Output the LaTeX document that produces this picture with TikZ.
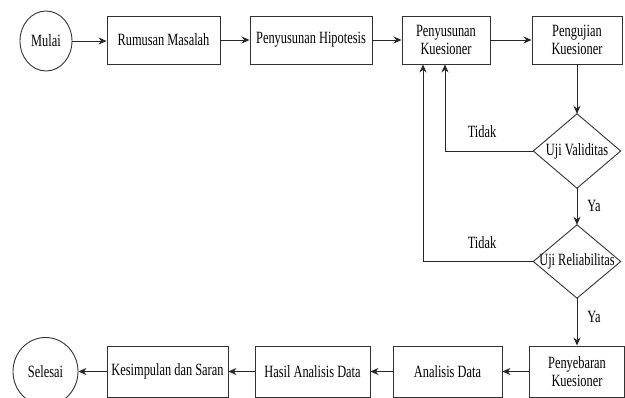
\documentclass[tikz,border=0pt]{standalone}
\usepackage{fontspec}
\setmainfont[FakeStretch=0.72]{Liberation Serif}
\usetikzlibrary{arrows.meta,shapes.geometric}
\begin{document}
\begin{tikzpicture}[x=1pt,y=-1pt,
  every node/.style={font=\fontsize{17.2}{18}\selectfont, text=black},
  box/.style={draw=black!80, line width=0.9pt, rectangle, inner sep=0pt, align=center},
  oval/.style={draw=black!80, line width=0.9pt, ellipse, inner sep=0pt},
  dia/.style={rectangle, inner sep=0pt, align=center},
  conn/.style={draw=black!85, line width=0.9pt, -{Stealth[length=8pt,width=7pt]}},
  lbl/.style={inner sep=0pt}
]
\useasboundingbox (0,0) rectangle (625,398);
\fill[white] (0,0) rectangle (625,398);

% top row
\node[oval, minimum width=52, minimum height=60] (mulai) at (46,41) {Mulai};
\node[box, minimum width=113, minimum height=48] (rum) at (163.5,40) {Rumusan Masalah};
\node[box, minimum width=122, minimum height=48] (hip) at (311,40) {Penyusunan Hipotesis};
\node[box, minimum width=88, minimum height=48] (kues) at (446,40) {Penyusunan\\Kuesioner};
\node[box, minimum width=90, minimum height=48] (uji) at (577,40) {Pengujian\\Kuesioner};

% decisions
\node[dia, minimum width=87, minimum height=74] (val) at (577,151) {Uji Validitas};
\draw[draw=black!80, line width=0.9pt] (val.north) -- (val.east) -- (val.south) -- (val.west) -- cycle;
\node[dia, minimum width=87, minimum height=73] (rel) at (577,261.5) {Uji Reliabilitas};
\draw[draw=black!80, line width=0.9pt] (rel.north) -- (rel.east) -- (rel.south) -- (rel.west) -- cycle;

% bottom row
\node[box, minimum width=95, minimum height=51] (sebar) at (577,371.5) {Penyebaran\\Kuesioner};
\node[box, minimum width=109, minimum height=51] (ana) at (447.5,371.5) {Analisis Data};
\node[box, minimum width=115, minimum height=51] (hasil) at (312.5,371.5) {Hasil Analisis Data};
\node[box, minimum width=121, minimum height=51] (kes) at (167.5,371.5) {Kesimpulan dan Saran};
\node[oval, minimum width=65, minimum height=68] (selesai) at (45.5,371.5) {Selesai};

% connectors
\draw[conn] (mulai) -- (mulai -| rum.west);
\draw[conn] (rum) -- (hip);
\draw[conn] (hip) -- (kues);
\draw[conn] (kues) -- (uji);
\draw[conn] (uji) -- (val);
\draw[conn] (val) -- (rel);
\draw[conn] (rel) -- (sebar);
\draw[conn] (sebar) -- (ana);
\draw[conn] (ana) -- (hasil);
\draw[conn] (hasil) -- (kes);
\draw[conn] (kes) -- (selesai);
\coordinate (k1) at ([xshift=-1pt]kues.south);
\coordinate (k2) at ([xshift=-23pt]kues.south);
\draw[conn] (val.west) -| (k1);
\draw[conn] (rel.west) -| (k2);

% labels
\node[lbl] (t1) at (482,132) {Tidak};
\node[lbl] (t2) at (482,243) {Tidak};
\node[lbl] (y1) at (594,206) {Ya};
\node[lbl] (y2) at (594,317) {Ya};
\end{tikzpicture}
\end{document}
